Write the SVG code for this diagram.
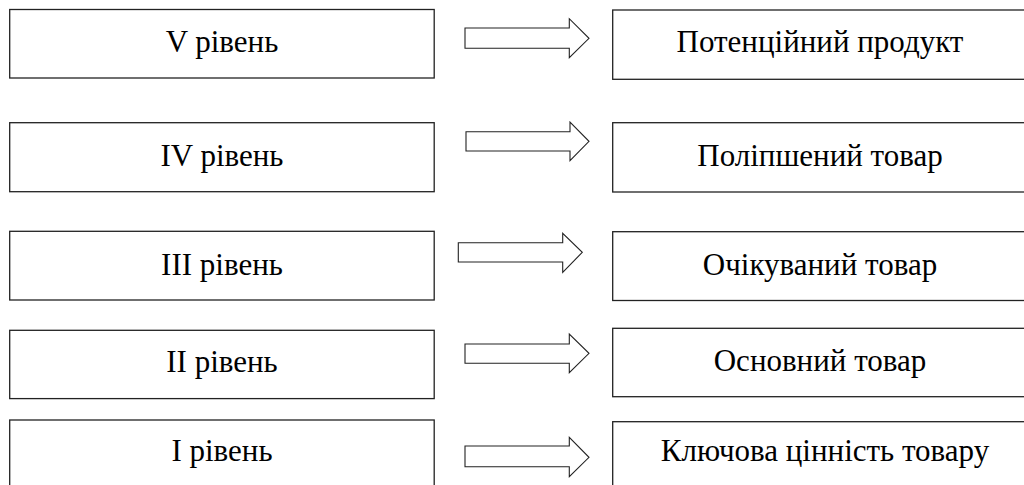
<svg xmlns="http://www.w3.org/2000/svg" width="1024" height="485" viewBox="0 0 1024 485">
<style>
.box{fill:#fff;stroke:#222;stroke-width:1.3}
.arr{fill:#fff;stroke:#222;stroke-width:1.1;stroke-linejoin:miter}
.t{font-family:"Liberation Serif","Times New Roman","DejaVu Serif",serif;font-size:31px;fill:#000;text-anchor:middle}
</style>
<rect width="1024" height="485" fill="#fff"/>
<g id="l5"><rect class="box" x="9.7" y="9.5" width="424.5" height="68.5"/><text class="t" x="222" y="52">V рівень</text></g>
<g id="l4"><rect class="box" x="9.7" y="122.7" width="424.5" height="69"/><text class="t" x="222" y="166">IV рівень</text></g>
<g id="l3"><rect class="box" x="9.7" y="231.3" width="424.5" height="68.7"/><text class="t" x="222" y="275">III рівень</text></g>
<g id="l2"><rect class="box" x="9.7" y="330.3" width="424.5" height="68.3"/><text class="t" x="222" y="372">II рівень</text></g>
<g id="l1"><rect class="box" x="9.7" y="420" width="424.5" height="80"/><text class="t" x="222" y="461">I рівень</text></g>
<g id="r5"><rect class="box" x="612.7" y="10" width="420" height="69.3"/><text class="t" x="820" y="52">Потенційний продукт</text></g>
<g id="r4"><rect class="box" x="612.7" y="122.7" width="420" height="69.3"/><text class="t" x="820" y="166">Поліпшений товар</text></g>
<g id="r3"><rect class="box" x="612.7" y="231.7" width="420" height="68.8"/><text class="t" x="820" y="275">Очікуваний товар</text></g>
<g id="r2"><rect class="box" x="612.7" y="328.3" width="420" height="68.4"/><text class="t" x="820" y="371">Основний товар</text></g>
<g id="r1"><rect class="box" x="612.7" y="421.7" width="420" height="80"/><text class="t" x="825" y="461">Ключова цінність товару</text></g>
<g id="connectors">
<path class="arr" d="M465,28 H569.3 V18.7 L589,38.3 L569.3,57.7 V48.3 H465 Z"/>
<path class="arr" d="M466,131.7 H570 V122 L589,141.3 L570,160.7 V151 H466 Z"/>
<path class="arr" d="M458.3,242.7 H562.7 V233.3 L582.3,252.3 L562.7,272.3 V262 H458.3 Z"/>
<path class="arr" d="M465,344 H569.3 V334 L589,353.3 L569.3,372.7 V363.3 H465 Z"/>
<path class="arr" d="M465,446 H569.3 V437.3 L589,457.3 L569.3,476.7 V466.7 H465 Z"/>
</g>
</svg>
